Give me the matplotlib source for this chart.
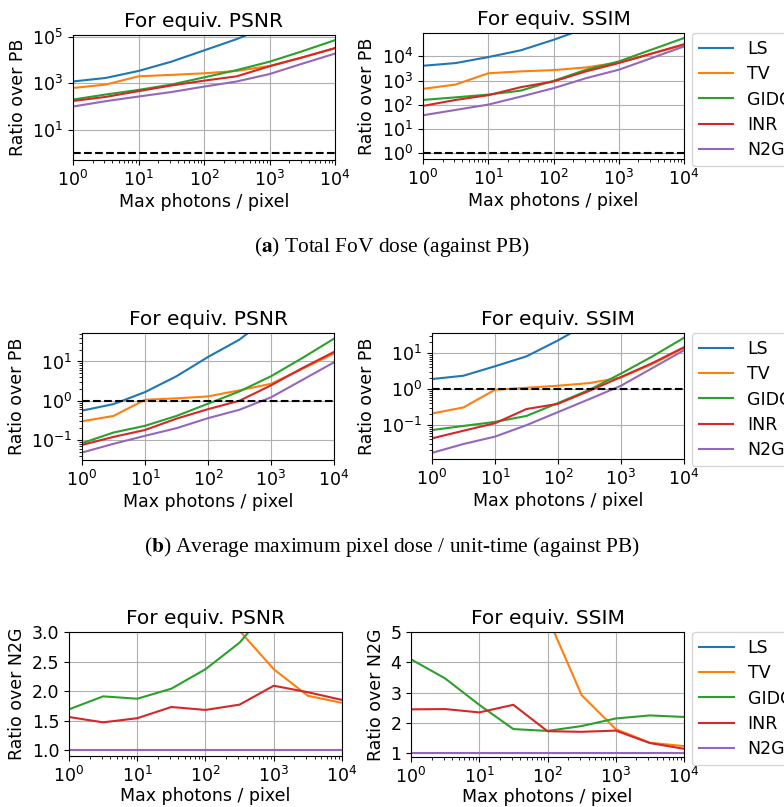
import matplotlib
matplotlib.use("Agg")
import matplotlib.pyplot as plt
import numpy as np

photons = [1, 3.16, 10, 31.6, 100, 316, 1000, 3162, 10000]
methods = ["LS", "TV", "GIDC", "INR", "N2G"]
colors = ["#1f77b4", "#ff7f0e", "#2ca02c", "#d62728", "#9467bd"]

# (a) Total FoV dose, ratio over PB
a_psnr_LS = [1200, 1700, 3400, 8500, 26000, 80000, 300000, 1000000, 3000000]
a_psnr_TV = [630, 880, 2000, 2300, 2700, 3400, 5600, 13000, 32000]
a_psnr_GIDC = [200, 330, 520, 880, 1800, 3700, 8500, 24000, 72000]
a_psnr_INR = [174, 260, 460, 800, 1300, 2000, 5400, 13000, 33000]
a_psnr_N2G = [100, 170, 270, 420, 720, 1200, 2500, 7000, 19000]

a_ssim_LS = [4100, 5300, 9400, 18000, 49000, 150000, 500000, 1500000, 4000000]
a_ssim_TV = [450, 680, 2000, 2400, 2700, 3500, 5600, 13000, 30000]
a_ssim_GIDC = [156, 200, 260, 380, 970, 2800, 6200, 19000, 58000]
a_ssim_INR = [88, 156, 245, 530, 910, 2400, 5300, 13000, 32000]
a_ssim_N2G = [36, 60, 100, 215, 480, 1250, 2800, 8500, 26000]

# (b) Average maximum pixel dose / unit-time, ratio over PB
b_psnr_LS = [0.56, 0.82, 1.66, 4.2, 13, 36, 150, 500, 1500]
b_psnr_TV = [0.30, 0.41, 1.06, 1.15, 1.29, 1.84, 2.7, 6.5, 16]
b_psnr_GIDC = [0.083, 0.155, 0.23, 0.41, 0.84, 1.73, 4.2, 12.3, 38]
b_psnr_INR = [0.075, 0.12, 0.18, 0.35, 0.61, 1.0, 2.46, 6.8, 17.5]
b_psnr_N2G = [0.048, 0.08, 0.128, 0.2, 0.36, 0.59, 1.22, 3.4, 9.5]

b_ssim_LS = [1.9, 2.35, 4.3, 8.1, 22.4, 70, 250, 800, 2000]
b_ssim_TV = [0.21, 0.31, 0.96, 1.09, 1.24, 1.47, 2.1, 5.0, 14]
b_ssim_GIDC = [0.073, 0.095, 0.123, 0.18, 0.41, 0.96, 2.7, 8.1, 26.5]
b_ssim_INR = [0.043, 0.07, 0.113, 0.28, 0.39, 0.9, 2.16, 5.3, 14.5]
b_ssim_N2G = [0.017, 0.03, 0.048, 0.1, 0.23, 0.53, 1.24, 3.85, 12]

# (c) ratio over N2G
c_psnr_LS = [12, 10, 12.6, 20, 36, 67, 120, 140, 160]
c_psnr_TV = [6.3, 5.2, 7.4, 5.5, 3.8, 3.02, 2.37, 1.92, 1.8]
c_psnr_GIDC = [1.69, 1.91, 1.87, 2.04, 2.37, 2.82, 3.5, 3.4, 3.8]
c_psnr_INR = [1.56, 1.47, 1.54, 1.73, 1.68, 1.77, 2.09, 1.98, 1.85]
c_psnr_N2G = [1, 1, 1, 1, 1, 1, 1, 1, 1]

c_ssim_LS = [110, 90, 94, 85, 100, 120, 180, 180, 160]
c_ssim_TV = [12, 11, 20, 11, 5.5, 2.92, 1.8, 1.35, 1.24]
c_ssim_GIDC = [4.10, 3.47, 2.6, 1.80, 1.74, 1.9, 2.15, 2.25, 2.2]
c_ssim_INR = [2.45, 2.46, 2.35, 2.6, 1.73, 1.71, 1.75, 1.34, 1.15]
c_ssim_N2G = [1, 1, 1, 1, 1, 1, 1, 1, 1]

panels = [
    # (series, rect in px [left, top, right, bottom], ylim, ylabel, title, dashed, legend, yticks)
    ([a_psnr_LS, a_psnr_TV, a_psnr_GIDC, a_psnr_INR, a_psnr_N2G], (73, 35, 335, 160), (0.5, 1.2e5),
     "Ratio over PB", "For equiv. PSNR", True, False, [1e1, 1e3, 1e5]),
    ([a_ssim_LS, a_ssim_TV, a_ssim_GIDC, a_ssim_INR, a_ssim_N2G], (423, 33, 684, 159), (0.55, 9.4e4),
     "Ratio over PB", "For equiv. SSIM", True, True, [1e0, 1e1, 1e2, 1e3, 1e4]),
    ([b_psnr_LS, b_psnr_TV, b_psnr_GIDC, b_psnr_INR, b_psnr_N2G], (82, 333, 334, 460), (0.031, 53),
     "Ratio over PB", "For equiv. PSNR", True, False, [1e-1, 1e0, 1e1]),
    ([b_ssim_LS, b_ssim_TV, b_ssim_GIDC, b_ssim_INR, b_ssim_N2G], (432, 333, 684, 459), (0.0115, 36),
     "Ratio over PB", "For equiv. SSIM", True, True, [1e-1, 1e0, 1e1]),
    ([c_psnr_LS, c_psnr_TV, c_psnr_GIDC, c_psnr_INR, c_psnr_N2G], (69, 632, 342, 756), (0.9, 3.0),
     "Ratio over N2G", "For equiv. PSNR", False, False, None),
    ([c_ssim_LS, c_ssim_TV, c_ssim_GIDC, c_ssim_INR, c_ssim_N2G], (411, 632, 684, 757), (0.88, 5.0),
     "Ratio over N2G", "For equiv. SSIM", False, True, None),
]

W, H = 784, 807
fig = plt.figure(figsize=(W / 100, H / 100), dpi=100)
FS = 12.5

for i, (series, (l, t, r, b), ylim, ylabel, title, dashed, legend, yticks) in enumerate(panels):
    ax = fig.add_axes([l / W, 1 - b / H, (r - l) / W, (b - t) / H])
    for name, vals, c in zip(methods, series, colors):
        ax.plot(photons, vals, color=c, lw=1.5, label=name)
    if dashed:
        ax.axhline(1.0, color="black", ls="--", lw=1.5)
        ax.set_yscale("log")
        ax.set_yticks(yticks)
    else:
        ax.set_yticks(np.arange(1, ylim[1] + 0.01, 0.5 if ylim[1] < 4 else 1.0))
        if ylim[1] < 4:
            ax.yaxis.set_major_formatter(matplotlib.ticker.FormatStrFormatter("%.1f"))
    ax.set_xscale("log")
    ax.set_xlim(1, 1e4)
    ax.set_xticks([1, 10, 100, 1000, 10000])
    ax.set_ylim(*ylim)
    ax.grid(True, which="major", color="#b0b0b0", lw=0.8)
    ax.set_title(title, fontsize=14.5)
    ax.set_xlabel("Max photons / pixel", fontsize=FS, labelpad=2.5 if i < 4 else 0.5)
    ax.set_ylabel(ylabel, fontsize=FS)
    ax.tick_params(labelsize=FS)
    if legend:
        ax.legend(loc="upper left", bbox_to_anchor=(1.03, 1.0), fontsize=FS,
                  handlelength=2.0, borderaxespad=0.0, labelspacing=0.42)

plt.rcParams["mathtext.fontset"] = "stix"
fig.text(0.5, 1 - 247 / H, r"($\mathbf{a}$) Total FoV dose (against PB)", ha="center", va="center",
         fontsize=15.4, family="Liberation Serif")
fig.text(0.5, 1 - 547 / H, r"($\mathbf{b}$) Average maximum pixel dose / unit-time (against PB)",
         ha="center", va="center", fontsize=15.4, family="Liberation Serif")

fig.savefig("out.png", dpi=100)
